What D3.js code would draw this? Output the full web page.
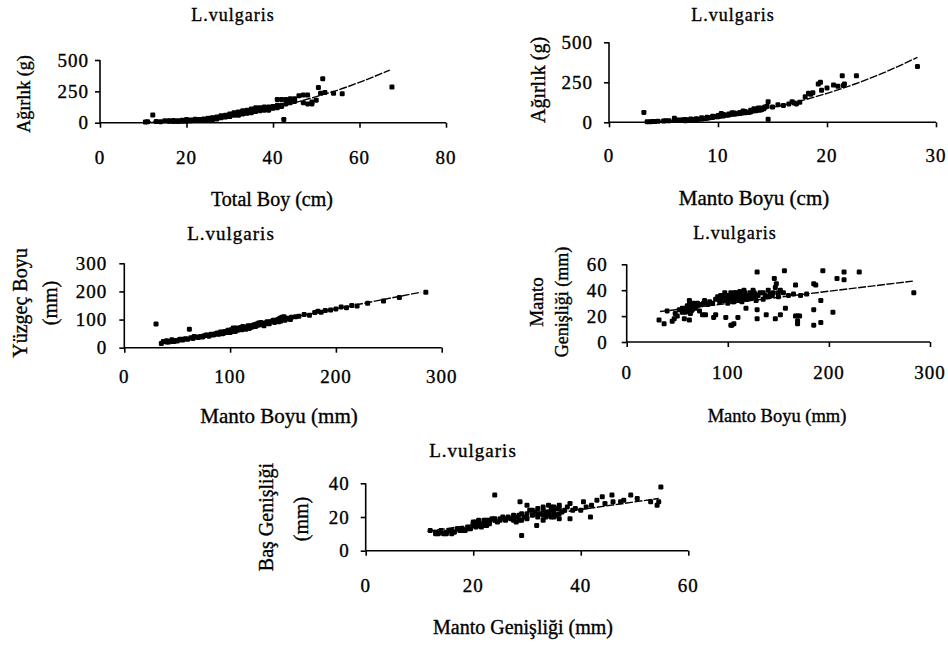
<!DOCTYPE html>
<html><head><meta charset="utf-8">
<script src="https://cdn.jsdelivr.net/npm/d3@7"></script>
<style>
html,body{margin:0;padding:0;background:#fff;}
svg text{font-family:"Liberation Serif","Times New Roman",serif;fill:#000;stroke:#000;stroke-width:0.35px;}
</style>
</head><body>
<svg id="chart" width="948" height="645"></svg>
<script>
// ---------- DATA ----------
const chartTitle = "L.vulgaris";

// Panel 1: Ağırlık (g) vs Total Boy (cm)
const p1XTicks = [0, 20, 40, 60, 80];
const p1YTicks = [0, 250, 500];
const p1Points = [[10.5,5],[11,8],[12.2,61],[13,10],[14,8],[15,15],[16,12],[17,18],[17,10],[18,15],[19,20],[19,12],[20,18],[20,25],[21,22],[21,15],[22,28],[22,20],[23,25],[23,18],[24,30],[24,22],[25,35],[25,28],[25,20],[26,40],[26,30],[27,45],[27,35],[28,50],[28,40],[29,55],[29,45],[30,60],[30,70],[30,50],[31,65],[31,75],[32,70],[32,85],[32,60],[33,80],[33,90],[33,70],[34,85],[34,100],[34,75],[35,95],[35,110],[35,80],[36,100],[36,120],[36,90],[37,105],[37,95],[38,115],[38,125],[38,100],[39,120],[39,110],[40,130],[40,115],[41,140],[41,185],[42,185],[42,130],[42.5,25],[43,185],[43,150],[44,160],[45,170],[46,215],[47,220],[48,150],[48,220],[49,165],[50,180],[50.5,280],[51,235],[51.5,350],[52,240],[54,235],[56,230],[67.5,285],
  [24,26],[25,32],[26,35],[27,40],[28,45],[28,55],[29,50],[29,60],[30,55],[30,65],[31,60],[31,70],[31,80],[32,65],[32,75],[32,80],[33,75],[33,85],[33,95],[34,80],[34,90],[34,95],[35,85],[35,100],[35,105],[36,95],[36,105],[36,110],[37,100],[37,110],[37,120],[38,105],[38,110],[38,120],[39,100],[39,115],[39,125],[40,120],[40,125],[41,120],[41,130],[42,140],[44,190],[45,190],[47,160],[49,150],[22,24],[23,21],[21,18],[20,12],[18,10],[16,15],[26,25],[27,30]];
const p1Trend = [[10,3],[15,10],[20,23],[25,40],[30,61],[35,90],[40,122],[45,160],[50,208],[55,260],[60,322],[67,420]];

// Panel 2: Ağırlık (g) vs Manto Boyu (cm)
const p2XTicks = [0, 10, 20, 30];
const p2YTicks = [0, 250, 500];
const p2Points = [[3.2,62],[3.5,3],[4,5],[4.5,6],[5,8],[5.5,10],[6,12],[6,25],[6.5,15],[7,18],[7,10],[7.5,20],[7.5,12],[8,22],[8,15],[8.5,28],[8.5,20],[9,32],[9,25],[9.5,38],[9.5,30],[10,42],[10,35],[10.5,48],[10.5,40],[11,52],[11,45],[11.5,58],[11.5,50],[12,62],[12,55],[12.5,68],[12.5,60],[13,75],[13,65],[13.5,80],[13.5,72],[14,90],[14,78],[14.5,100],[14.6,129],[14.6,19],[15,95],[15.5,110],[16,105],[16.8,129],[17,120],[17.5,125],[18,160],[18.3,181],[18.7,185],[19.2,239],[19.5,200],[20.6,233],[21,225],[21.4,291],[22.7,291],[28.3,348],
  [6.2,14],[6.8,16],[7.2,14],[7.8,18],[8.2,19],[8.8,24],[9.2,28],[9.8,34],[10.2,38],[10.8,44],[11.2,50],[11.8,54],[12.2,58],[12.8,62],[13.2,70],[13.8,76],[14.2,85],[10.3,55],[11.3,60],[12.3,70],[13.3,85],[13.7,90],[14.3,95],[5.2,9],[4.2,5],[3.8,4],[16.5,115],[17.2,115],[18.5,175],[19.4,250],[20,215],[21.5,230],[21.6,240]];
const p2Trend = [[3.5,3],[5,7],[7.5,18],[10,36],[12.5,60],[15,93],[17.5,133],[20,181],[22.5,238],[25,304],[28.3,406]];

// Panel 3: Yüzgeç Boyu (mm) vs Manto Boyu (mm)
const p3XTicks = [0, 100, 200, 300];
const p3YTicks = [0, 100, 200, 300];
const p3Points = [[30,84],[35,15],[37,22],[40,25],[42,20],[45,28],[47,22],[50,24],[53,30],[55,27],[58,32],[60,30],[61.5,66],[63,35],[65,33],[68,38],[70,36],[72,40],[75,42],[78,45],[80,41],[82,48],[85,47],[88,52],[90,50],[92,55],[94,52],[95,58],[97,56],[99,60],[100,54],[101,64],[103,62],[104,68],[105,58],[106,70],[108,66],[110,72],[111,64],[112,75],[114,70],[116,74],[118,68],[120,78],[122,80],[124,75],[125,84],[127,88],[128,82],[130,86],[132,78],[135,92],[137,85],[140,95],[142,90],[145,100],[147,105],[148,95],[150,102],[152,98],[155,105],[158,108],[162,110],[165,112],[170,118],[175,115],[180,125],[183,130],[186,126],[190,132],[195,134],[200,138],[205,145],[210,142],[215,150],[220,148],[230,158],[245,166],[260,178],[285,197],
  [84,45],[86,50],[89,48],[91,56],[93,50],[96,54],[98,62],[102,58],[103,70],[105,66],[107,62],[109,68],[111,70],[113,72],[115,66],[117,78],[119,72],[121,74],[123,82],[126,80],[129,90],[131,84],[133,88],[136,86],[138,92],[141,98],[144,95],[146,92],[149,108],[151,110],[153,104],[157,100],[40,20],[44,22],[48,26],[52,28],[56,30],[66,40],[74,38],[77,44]];
const p3Trend = [[33,16],[280,197]];

// Panel 4: Manto Genişliği (mm) vs Manto Boyu (mm)
const p4XTicks = [0, 100, 200, 300];
const p4YTicks = [0, 20, 40, 60];
const p4Points = [[32,17],[37,14],[40,24],[45,16],[47,18],[48,22],[50,20],[52,25],[55,23],[57,18],[58,26],[60,24],[60,28],[62,17],[62,32],[63,22],[64,27],[65,25],[66,30],[68,26],[70,28],[72,24],[75,21],[76,30],[77,32],[78,21],[80,29],[82,31],[85,30],[86,19],[88,21],[88,33],[90,35],[92,31],[94,34],[95,36],[96,32],[98,19],[98,34],[100,36],[100,30],[102,33],[103,13],[104,13],[104,37],[105,35],[106,14],[106,31],[107,38],[108,34],[110,36],[110,19],[111,32],[112,39],[114,34],[115,37],[116,40],[118,26],[118,33],[120,35],[122,38],[124,36],[125,40],[126,34],[128,32],[129,25],[129,18],[129,54],[130,36],[132,38],[135,33],[138,21],[140,35],[142,37],[145,38],[146,49],[147,18],[147,42],[148,45],[150,35],[152,21],[152,40],[155,38],[156,55],[157,26],[160,36],[165,37],[167,44],[167,20],[169,20],[169,16],[169,14],[171,20],[172,36],[178,37],[185,45],[187,44],[185,25],[185,13],[192,32],[192,15],[194,55],[204,23],[208,49],[215,54],[215,48],[230,54],[284,38],
  [91,33],[93,36],[97,38],[99,32],[101,35],[103,38],[104,34],[105,31],[106,36],[107,33],[108,38],[109,36],[111,35],[113,37],[114,31],[116,35],[117,38],[119,33],[121,36],[123,34],[127,37],[60,26],[62,29],[64,24],[66,27],[58,23],[55,26],[70,30],[73,29],[135,38],[137,36],[140,40],[144,36],[150,38],[126,38]];
const p4Trend = [[33,23.5],[283,47]];

// Panel 5: Baş Genişliği (mm) vs Manto Genişliği (mm)
const p5XTicks = [0, 20, 40, 60];
const p5YTicks = [0, 20, 40];
const p5Points = [[12,12],[13,11],[13.5,10],[14,12],[14.5,10],[15,11],[15.5,12],[16,10],[16.5,11],[17,13],[17.5,12],[18,13],[18.5,12],[19,14],[19.5,13],[20,15],[20,16],[20.5,14],[21,17],[21,15],[21.5,16],[22,18],[22,15],[22.5,17],[23,16],[23,18],[23.5,19],[24,33],[24,18],[24.5,17],[25,19],[25.5,20],[26,18],[26.5,20],[27,19],[27.5,21],[28,17],[28,20],[28.5,18],[29,9],[28.7,29],[29,22],[29.5,20],[30,27],[30,19],[30.5,24],[31,21],[31.5,23],[31.8,15],[32,25],[32,20],[32.5,22],[33,18],[33,26],[33.5,23],[34,21],[34,27],[34.5,24],[35,20],[35,22],[35.5,25],[36,19],[36,27],[36.5,23],[37,24],[37.5,26],[38,19],[38,28],[38.5,24],[39,25],[40,24],[40.5,29],[41,26],[41.8,20],[42,27],[43,30],[44,32],[44.5,28],[45.8,33],[46,29],[47.4,29],[48,30],[49.3,33],[50.5,31],[53,29],[54.2,27],[54.5,29],[54.9,37.8],
  [20.5,17],[21.5,14],[22,16],[22.5,18],[23,17],[21,18],[20,17],[22.5,15],[30,22],[31,24],[32,22],[33,24],[33.5,20],[34,23],[34.5,20],[35,24],[35,26],[35.5,21],[36,22],[36,25],[34.5,26],[33,21],[29,18],[28.5,21],[27.5,18],[26,19],[25,18],[24,19],[14,11],[15,10],[13,10],[16,12],[18,12],[19,13]];
const p5Trend = [[11.5,11.5],[54.5,31]];

// ---------- LAYOUT (positions / styles) ----------
const panels = [
  {pts:p1Points, trend:p1Trend, xt:p1XTicks, yt:p1YTicks,
   xr:[100,446], yr:[122.7,60], ytGap:11, xtBase:164, tickFs:19,
   title:{x:233,y:20.7,fs:18}, xlab:{t:"Total Boy (cm)",x:272,y:206,fs:20},
   ylab:[{t:"Ağırlık (g)",x:30,y:94,fs:18}]},
  {pts:p2Points, trend:p2Trend, xt:p2XTicks, yt:p2YTicks,
   xr:[609,936], yr:[122.3,42.3], ytGap:16, xtBase:162, tickFs:19,
   title:{x:733,y:20.7,fs:18}, xlab:{t:"Manto Boyu (cm)",x:754,y:205,fs:21},
   ylab:[{t:"Ağırlık (g)",x:545,y:80,fs:20}]},
  {pts:p3Points, trend:p3Trend, xt:p3XTicks, yt:p3YTicks,
   xr:[124.3,441.7], yr:[347.7,263.3], ytGap:17, xtBase:383, tickFs:19,
   title:{x:231,y:240,fs:19}, xlab:{t:"Manto Boyu (mm)",x:279,y:423,fs:21},
   ylab:[{t:"Yüzgeç Boyu",x:27,y:303,fs:20},{t:"(mm)",x:57,y:303,fs:20}]},
  {pts:p4Points, trend:p4Trend, xt:p4XTicks, yt:p4YTicks,
   xr:[626.7,930], yr:[342,264.3], ytGap:19, xtBase:379, tickFs:19,
   title:{x:735,y:239,fs:18}, xlab:{t:"Manto Boyu (mm)",x:777,y:422,fs:18.5},
   ylab:[{t:"Manto",x:543,y:302,fs:19},{t:"Genişliği (mm)",x:568,y:302,fs:18}]},
  {pts:p5Points, trend:p5Trend, xt:p5XTicks, yt:p5YTicks,
   xr:[365.7,688.3], yr:[550.7,483.3], ytGap:16, xtBase:592, tickFs:19,
   title:{x:473,y:457,fs:19}, xlab:{t:"Manto Genişliği (mm)",x:523,y:634,fs:20},
   ylab:[{t:"Baş Genişliği",x:273,y:517,fs:20},{t:"(mm)",x:308,y:519,fs:20}]}
];

// ---------- DRAW ----------
const svg = d3.select("#chart");

panels.forEach(p => {
  const x = d3.scaleLinear().domain([p.xt[0], p.xt[p.xt.length-1]]).range(p.xr);
  const y = d3.scaleLinear().domain([p.yt[0], p.yt[p.yt.length-1]]).range(p.yr);
  const g = svg.append("g");

  // X axis
  const xAxis = d3.axisBottom(x).tickValues(p.xt).tickSize(5).tickFormat("");
  const gx = g.append("g").attr("transform", `translate(0,${y(0)})`).call(xAxis);
  gx.select(".domain").attr("stroke","#000").attr("stroke-width",1.6).attr("d", `M${p.xr[0]},0H${p.xr[1]}`);
  gx.selectAll(".tick line").attr("stroke","#000").attr("stroke-width",1.6);
  g.selectAll(".xtl").data(p.xt).enter().append("text")
    .attr("x", d => x(d)).attr("y", p.xtBase)
    .attr("text-anchor","middle").attr("font-size", p.tickFs).attr("letter-spacing", 1)
    .text(d => d);

  // Y axis
  const yAxis = d3.axisLeft(y).tickValues(p.yt).tickSize(5).tickFormat("");
  const gy = g.append("g").attr("transform", `translate(${x(p.xt[0])},0)`).call(yAxis);
  gy.select(".domain").attr("stroke","#000").attr("stroke-width",1.6).attr("d", `M0,${p.yr[0]}V${p.yr[1]}`);
  gy.selectAll(".tick line").attr("stroke","#000").attr("stroke-width",1.6);
  g.selectAll(".ytl").data(p.yt).enter().append("text")
    .attr("x", x(p.xt[0]) - p.ytGap).attr("y", d => y(d))
    .attr("dy","0.35em")
    .attr("text-anchor","end").attr("font-size", p.tickFs).attr("letter-spacing", 1)
    .text(d => d);

  // Trend line
  g.append("path").datum(p.trend)
    .attr("fill","none").attr("stroke","#000").attr("stroke-width",1.4)
    .attr("stroke-dasharray","8,1.5")
    .attr("d", d3.line().x(d => x(d[0])).y(d => y(d[1])).curve(d3.curveMonotoneX));

  // Points
  g.selectAll(".pt").data(p.pts).enter().append("rect")
    .attr("x", d => x(d[0]) - 2.5).attr("y", d => y(d[1]) - 2.5)
    .attr("width", 5).attr("height", 5).attr("rx", 1.3)
    .attr("fill","#000");

  // Title
  g.append("text").attr("x", p.title.x).attr("y", p.title.y)
    .attr("text-anchor","middle").attr("font-size", p.title.fs).attr("letter-spacing", 1)
    .text(chartTitle);

  // X label
  g.append("text").attr("x", p.xlab.x).attr("y", p.xlab.y)
    .attr("text-anchor","middle").attr("font-size", p.xlab.fs)
    .text(p.xlab.t);

  // Y labels (rotated)
  p.ylab.forEach(l => {
    g.append("text")
      .attr("transform", `translate(${l.x},${l.y}) rotate(-90)`)
      .attr("text-anchor","middle").attr("font-size", l.fs)
      .text(l.t);
  });
});
</script>
</body></html>
